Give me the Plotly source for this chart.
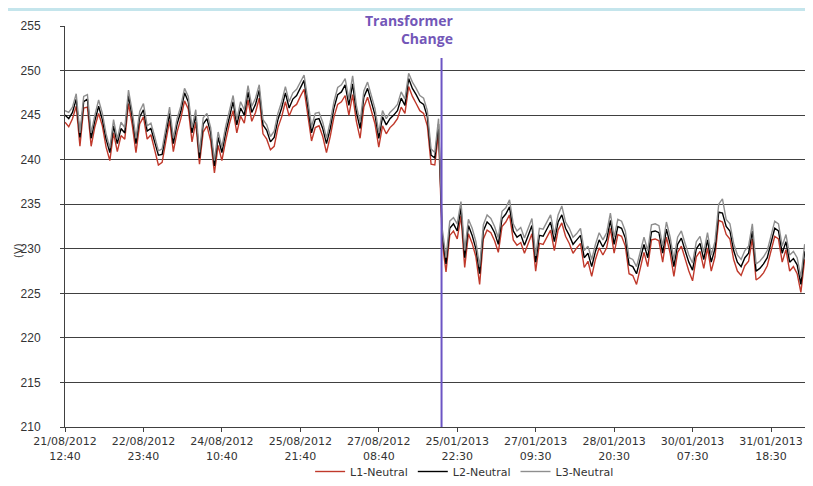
import plotly.graph_objects as go

# ---------------- data ----------------
tick_labels = [
    "21/08/2012<br>12:40", "22/08/2012<br>23:40", "24/08/2012<br>10:40",
    "25/08/2012<br>21:40", "27/08/2012<br>08:40", "25/01/2013<br>22:30",
    "27/01/2013<br>09:30", "28/01/2013<br>20:30", "30/01/2013<br>07:30",
    "31/01/2013<br>18:30",
]
tick_pos = [0, 21, 42, 63, 84, 105, 126, 147, 168, 189]
transformer_change_index = 100.8

l1_neutral = [
    244.2, 243.7, 244.6, 246.0, 241.5, 245.8, 245.9, 241.5, 243.7, 245.2,
    243.8, 241.4, 239.9, 243.0, 240.9, 242.7, 242.3, 246.3, 243.9, 240.8,
    244.0, 244.8, 242.3, 242.8, 241.1, 239.4, 239.7, 242.2, 244.4, 240.9,
    243.1, 244.6, 246.6, 245.7, 242.0, 244.2, 239.5, 243.1, 243.8, 242.1,
    238.5, 241.6, 239.9, 242.1, 244.0, 245.5, 243.0, 244.9, 244.1, 246.7,
    244.3, 245.3, 246.9, 242.9, 242.3, 241.1, 241.5, 243.6, 244.8, 246.5,
    244.9, 245.9, 246.2, 247.1, 247.9, 245.0, 242.1, 243.6, 243.8, 242.6,
    240.8, 242.6, 244.8, 246.2, 246.5, 247.2, 245.0, 247.3, 244.3, 242.4,
    245.9, 247.0, 245.4, 244.0, 241.4, 243.8, 242.9, 243.6, 244.0, 244.6,
    245.9, 245.2, 248.2, 247.1, 246.3, 245.5, 245.2, 243.8, 239.5, 239.4,
    243.0,
    230.7, 227.4, 231.5, 232.0, 231.1, 233.7, 227.9, 231.7, 230.6, 229.1,
    226.0, 231.1, 232.1, 231.8, 230.9, 229.6, 232.5, 233.0, 233.8, 231.0,
    230.4, 230.7, 229.5, 230.6, 231.7, 227.5, 230.6, 230.5, 231.4, 232.1,
    229.8, 232.1, 232.9, 231.4, 230.6, 229.5, 230.1, 230.6, 227.9, 228.6,
    226.9, 228.8, 230.1, 229.3, 230.1, 232.3, 229.5, 231.6, 231.4, 230.3,
    227.2, 227.0, 226.0, 228.0, 229.6, 228.0, 231.0, 231.1, 230.9, 228.5,
    231.3, 229.5, 226.9, 229.6, 230.3, 228.9, 227.5, 226.4, 229.1, 229.7,
    227.8, 230.1, 227.5, 229.1, 233.2, 233.0, 231.6, 231.1, 228.8, 227.5,
    227.0, 228.1, 228.6, 231.1, 226.5, 226.8, 227.3, 228.1, 229.9, 231.4,
    231.1, 228.5, 229.9, 227.5, 228.0, 227.2, 225.1, 228.8, 228.0,
]

l2_neutral = [
    245.0, 244.6, 245.3, 246.8, 242.5, 246.5, 246.8, 242.4, 244.4, 246.0,
    244.5, 242.3, 240.8, 243.8, 241.8, 243.5, 243.0, 247.2, 244.8, 241.8,
    244.8, 245.6, 243.2, 243.5, 242.0, 240.5, 240.6, 243.0, 245.2, 241.8,
    244.0, 245.4, 247.5, 246.5, 243.0, 245.0, 240.2, 244.0, 244.6, 243.0,
    239.3, 242.5, 240.8, 243.0, 244.8, 246.5, 243.9, 245.8, 245.0, 247.6,
    245.3, 246.2, 247.8, 243.9, 243.3, 242.0, 242.5, 244.5, 245.8, 247.5,
    245.8, 246.8, 247.2, 248.0, 248.9, 246.0, 243.0, 244.5, 244.6, 243.5,
    241.8, 243.5, 245.8, 247.3, 247.6, 248.4, 246.1, 248.5, 245.4, 243.5,
    247.0, 248.0, 246.5, 245.0, 242.4, 244.8, 243.9, 244.6, 245.0, 245.5,
    246.9, 246.1, 249.1, 248.0, 247.3, 246.5, 246.2, 244.8, 240.5, 240.2,
    244.0,
    231.5, 228.3, 232.3, 232.8, 232.0, 234.6, 229.0, 232.6, 231.5, 230.0,
    227.2, 232.0, 233.0, 232.6, 231.8, 230.5, 233.4, 233.9, 234.7, 232.0,
    231.3, 231.6, 230.4, 231.5, 232.6, 228.5, 231.5, 231.4, 232.3, 233.0,
    230.8, 233.0, 233.8, 232.3, 231.5, 230.5, 231.0, 231.5, 229.0, 229.5,
    228.0, 229.7, 231.0, 230.2, 231.0, 233.2, 230.5, 232.5, 232.3, 231.2,
    228.2, 228.0, 227.2, 229.0, 230.5, 229.0, 231.9, 232.0, 231.8, 229.5,
    232.2, 230.5, 228.0, 230.5, 231.2, 229.8, 228.5, 227.6, 230.0, 230.6,
    228.8, 231.0, 228.5, 230.0, 234.1, 234.0, 232.5, 232.0, 229.8, 228.5,
    228.0, 229.0, 229.5, 232.0, 227.5, 227.8, 228.3, 229.0, 230.8, 232.3,
    232.0, 229.5, 230.8, 228.5, 228.9, 228.2, 226.0, 229.7, 229.0,
]

l3_neutral = [
    245.5, 245.3, 245.9, 247.4, 243.0, 247.1, 247.3, 243.0, 245.0, 246.7,
    245.2, 242.9, 241.3, 244.5, 242.3, 244.2, 243.6, 247.8, 245.4, 242.4,
    245.4, 246.3, 243.8, 244.1, 242.6, 241.0, 241.2, 243.7, 245.9, 242.4,
    244.6, 246.0, 248.0, 247.1, 243.6, 245.6, 240.8, 244.7, 245.2, 243.6,
    239.9, 243.1, 241.4, 243.7, 245.4, 247.2, 244.5, 246.5, 245.6, 248.3,
    246.0, 246.9, 248.4, 244.5, 243.9, 242.6, 243.2, 245.2, 246.5, 248.2,
    246.5, 247.5, 247.9, 248.7, 249.5, 246.7, 243.7, 245.2, 245.3, 244.2,
    242.4, 244.2, 246.5, 248.1, 248.4, 249.1, 246.8, 249.4, 246.1, 244.2,
    247.7, 248.7, 247.2, 245.7, 243.0, 245.5, 244.6, 245.3, 245.7, 246.2,
    247.6, 246.8, 249.7, 248.7, 248.0, 247.2, 246.9, 245.5, 241.2, 240.8,
    244.6,
    232.2, 229.0, 233.1, 233.5, 232.8, 235.3, 229.8, 233.3, 232.3, 230.8,
    228.0, 232.7, 233.8, 233.4, 232.5, 231.2, 234.2, 234.6, 235.5, 232.8,
    232.0, 232.4, 231.2, 232.3, 233.4, 229.2, 232.3, 232.2, 233.1, 233.8,
    231.6, 233.8, 234.8, 233.0, 232.3, 231.3, 231.7, 232.3, 229.8, 230.3,
    228.8, 230.5, 231.8, 231.0, 231.8, 234.0, 231.3, 233.3, 233.1, 232.0,
    229.0, 228.8, 228.0, 229.8, 231.3, 229.8, 232.7, 232.8, 232.6, 230.3,
    233.0, 231.3, 228.8, 231.3, 232.0, 230.6, 229.3, 228.4, 230.8, 231.4,
    229.6, 231.8, 229.3, 230.8, 235.0, 235.6, 233.3, 232.8, 230.6, 229.3,
    228.8, 229.8, 230.3, 232.8, 228.3, 228.6, 229.1, 229.8, 231.6, 233.1,
    232.8, 230.3, 231.6, 229.3, 229.7, 229.0, 226.8, 230.5, 229.8,
]

sample_index = list(range(len(l2_neutral)))

# ---------------- figure ----------------
fig = go.Figure()
series = [
    ("L1-Neutral", l1_neutral, "#C0392B"),
    ("L2-Neutral", l2_neutral, "#000000"),
    ("L3-Neutral", l3_neutral, "#8E8E8E"),
]
for name, vals, color in series:
    fig.add_trace(go.Scatter(
        x=sample_index, y=vals, mode="lines", name=name,
        line=dict(color=color, width=1.4),
    ))

axis_color = "#404040"
tick_font = dict(family="DejaVu Sans", size=11, color="#333333")

fig.update_layout(
    width=797, height=478,
    margin=dict(l=57, r=0, t=18, b=59, autoexpand=False),
    paper_bgcolor="white", plot_bgcolor="white",
    showlegend=True,
    legend=dict(
        orientation="h", x=0.54, xanchor="center",
        yref="container", y=-0.015, yanchor="bottom",
        font=dict(family="DejaVu Sans", size=11, color="#333333"),
        bgcolor="rgba(0,0,0,0)",
    ),
    xaxis=dict(
        range=[0, 198.1],
        tickmode="array", tickvals=tick_pos, ticktext=tick_labels,
        tickangle=0, ticklabeloverflow="allow",
        showgrid=False, zeroline=False,
        showline=True, linecolor=axis_color, linewidth=1,
        ticks="outside", ticklen=4, tickcolor=axis_color,
        tickfont=tick_font,
    ),
    yaxis=dict(
        range=[210, 255], dtick=5, tick0=210,
        showgrid=True, gridcolor=axis_color, gridwidth=1,
        zeroline=False,
        showline=True, linecolor=axis_color, linewidth=1,
        ticks="outside", ticklen=4, tickcolor=axis_color,
        tickfont=dict(family="Liberation Sans Narrow, Liberation Sans", size=12, color="#333333"),
        ticklabelstandoff=17,
    ),
)

# light band at the very top of the page
fig.add_shape(type="rect", xref="paper", yref="paper",
              x0=-0.08, x1=1.0, y0=1.0374, y1=1.045,
              fillcolor="#C4E5EC", line=dict(width=0), layer="above")

# gap in the top gridline behind the label
fig.add_shape(type="rect", xref="x", yref="y",
              x0=80.3, x1=107.9, y0=254.6, y1=255.4,
              fillcolor="white", line=dict(width=0), layer="above")

# transformer change marker
fig.add_shape(type="line", xref="x", yref="y",
              x0=transformer_change_index, x1=transformer_change_index,
              y0=210, y1=251.4,
              line=dict(color="#6C55C4", width=2), layer="above")

fig.add_annotation(
    xref="x", yref="paper",
    x=104.4, y=1.041, xanchor="right", yanchor="top",
    text="<b>Transformer</b><br><b>Change</b>", align="right",
    showarrow=False,
    font=dict(family="Open Sans", size=14, color="#7357B8"),
    borderpad=0,
)

fig.add_annotation(
    xref="paper", yref="paper", x=-0.074, y=0.441,
    text="(V)", textangle=-90, showarrow=False,
    font=dict(family="DejaVu Sans", size=10, color="#333333"),
)

fig.write_html("out.html")
